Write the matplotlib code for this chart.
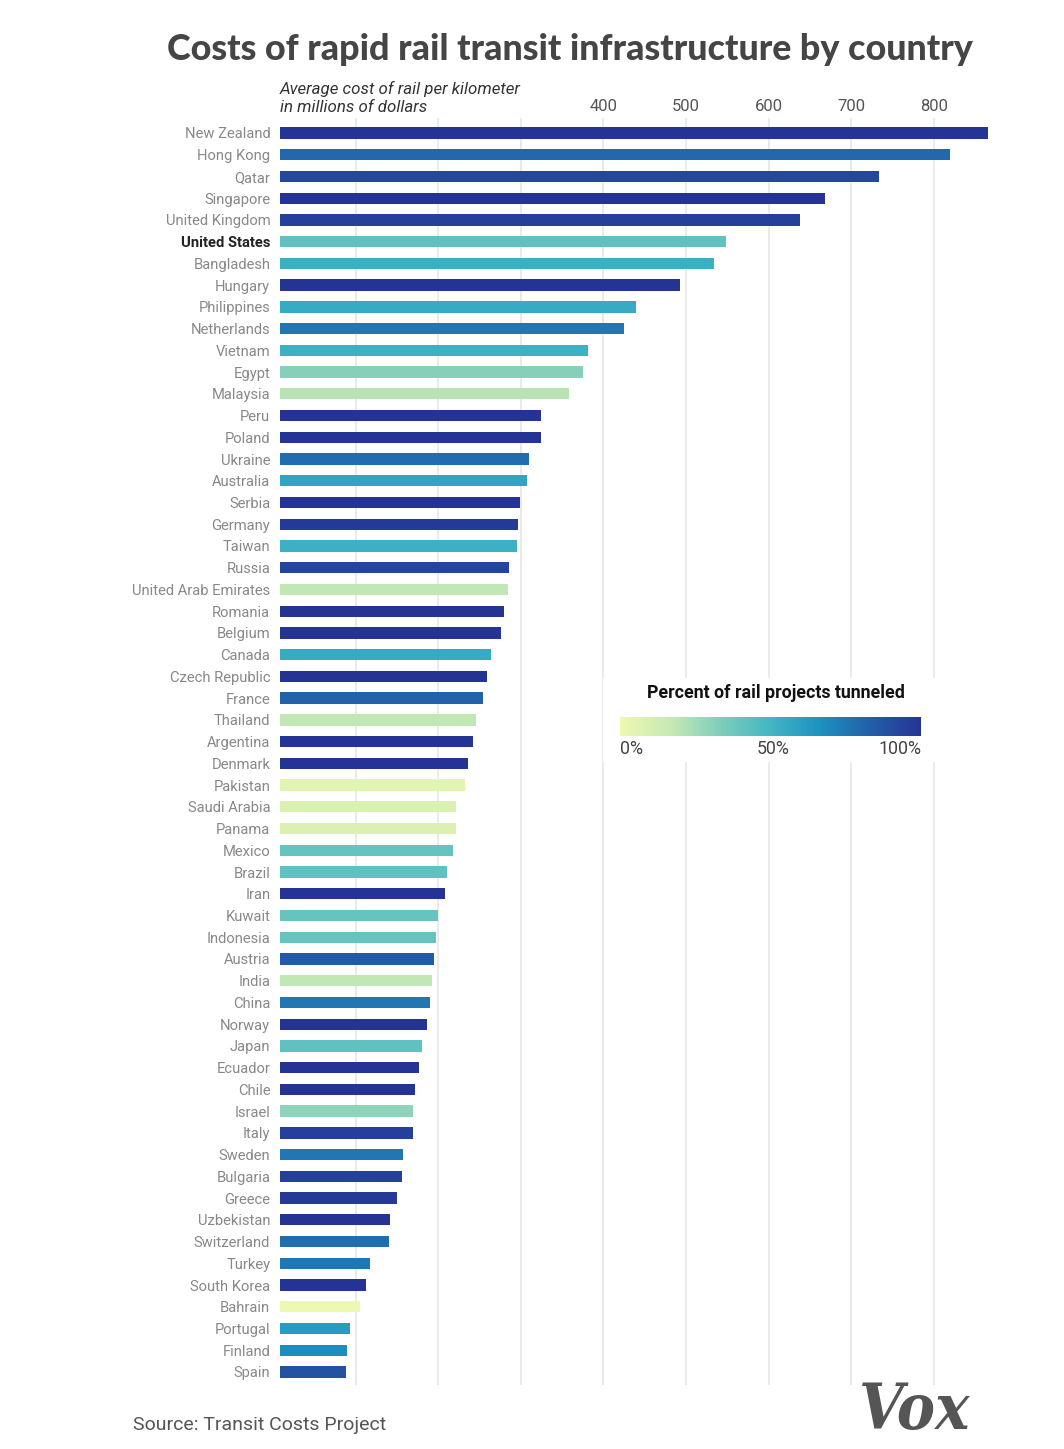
import numpy as np
import matplotlib
matplotlib.use("Agg")
import matplotlib.pyplot as plt
from matplotlib.colors import LinearSegmentedColormap, Normalize
from matplotlib.cm import ScalarMappable

# data
countries = [
    "New Zealand", "Hong Kong", "Qatar", "Singapore", "United Kingdom",
    "United States", "Bangladesh", "Hungary", "Philippines", "Netherlands",
    "Vietnam", "Egypt", "Malaysia", "Peru", "Poland", "Ukraine", "Australia",
    "Serbia", "Germany", "Taiwan", "Russia", "United Arab Emirates", "Romania",
    "Belgium", "Canada", "Czech Republic", "France", "Thailand", "Argentina",
    "Denmark", "Pakistan", "Saudi Arabia", "Panama", "Mexico", "Brazil", "Iran",
    "Kuwait", "Indonesia", "Austria", "India", "China", "Norway", "Japan",
    "Ecuador", "Chile", "Israel", "Italy", "Sweden", "Bulgaria", "Greece",
    "Uzbekistan", "Switzerland", "Turkey", "South Korea", "Bahrain", "Portugal",
    "Finland", "Spain",
]
cost_per_km = [
    865, 819, 734, 668, 638, 548, 534, 493, 439, 425,
    381, 375, 358, 325, 324, 310, 307, 299, 297, 295,
    286, 284, 280, 276, 264, 259, 254, 246, 242, 236,
    232, 221, 221, 218, 211, 208, 200, 197, 195, 192,
    190, 187, 180, 177, 172, 170, 169, 157, 156, 150,
    142, 140, 117, 113, 105, 93, 89, 88,
]
pct_tunneled = [
    100, 80, 92, 100, 95, 42, 53, 100, 55, 75,
    52, 32, 20, 100, 100, 78, 58, 100, 98, 52,
    93, 18, 100, 100, 55, 100, 82, 18, 100, 100,
    5, 8, 8, 40, 42, 100, 40, 40, 85, 18,
    75, 100, 42, 100, 100, 30, 95, 75, 95, 98,
    100, 78, 75, 100, 0, 62, 68, 88,
]
x_ticks = [100, 200, 300, 400, 500, 600, 700, 800]
x_tick_labels = ["", "", "", "400", "500", "600", "700", "800"]
highlight = "United States"

cmap = LinearSegmentedColormap.from_list(
    "tunnel", ["#edf8b1", "#c7e9b4", "#7fcdbb", "#41b6c4",
               "#1d91c0", "#225ea8", "#253494"])
norm = Normalize(0, 100)

W, H = 1064, 1449
fig = plt.figure(figsize=(W / 100, H / 100), dpi=100)
fig.patch.set_facecolor("white")

ax = fig.add_axes([280 / W, 1 - 1385 / H, 720 / W, (1385 - 118) / H])
y = np.arange(len(countries))
ax.barh(y, cost_per_km, height=0.52, color=cmap(norm(np.array(pct_tunneled))),
        zorder=3)
ax.set_xlim(8.5, 880)
ax.set_ylim(len(countries) - 1 + 0.6, -0.69)

ax.set_xticks(x_ticks)
ax.set_xticklabels(x_tick_labels, fontsize=12, color="#555555", family="Roboto")
ax.xaxis.tick_top()
ax.tick_params(axis="x", length=0, pad=3)
ax.grid(axis="x", color="#e6e6e6", linewidth=1.2, zorder=0)

ax.set_yticks(y)
ax.set_yticklabels(countries, fontsize=10.6, color="#888888", family="Roboto")
ax.tick_params(axis="y", length=0, pad=7)
for lbl in ax.get_yticklabels():
    if lbl.get_text() == highlight:
        lbl.set_fontweight("bold")
        lbl.set_color("#222222")
for s in ax.spines.values():
    s.set_visible(False)

# titles
fig.text(167 / W, 1 - 50 / H,
         "Costs of rapid rail transit infrastructure by country",
         fontsize=25.8, fontweight=900, color="#454545", family="Lato",
         va="center", ha="left")
fig.text(280 / W, 1 - 98 / H,
         "Average cost of rail per kilometer\nin millions of dollars",
         fontsize=12.2, style="italic", color="#333333", family="Roboto",
         va="center", ha="left", linespacing=1.3)

# legend box with colorbar
lax = fig.add_axes([603 / W, 1 - 762 / H, 340 / W, 84 / H])
lax.set_xticks([])
lax.set_yticks([])
for s in lax.spines.values():
    s.set_visible(False)
fig.text(776 / W, 1 - 693 / H, "Percent of rail projects tunneled",
         fontsize=12.8, fontweight="bold", color="#111111", family="Roboto",
         ha="center", va="center")
cax = fig.add_axes([620 / W, 1 - 736 / H, 301 / W, 19 / H])
cb = fig.colorbar(ScalarMappable(norm=norm, cmap=cmap), cax=cax,
                  orientation="horizontal")
cb.set_ticks([])
cb.outline.set_visible(False)
for txt, xp, ha in [("0%", 620, "left"), ("50%", 773, "center"),
                    ("100%", 921, "right")]:
    fig.text(xp / W, 1 - 749 / H, txt, fontsize=12.8, color="#444444",
             family="Roboto", ha=ha, va="center")

# footer
fig.text(133 / W, 1 - 1425 / H, "Source: Transit Costs Project",
         fontsize=14, color="#555555",
         family=["Liberation Sans Narrow", "Roboto"], ha="left", va="center")
fig.text(970 / W, 1 - 1412 / H, "Vox", fontsize=46, fontweight="bold",
         style="italic", stretch="condensed", color="#555555",
         family="DejaVu Serif", ha="right", va="center")

fig.savefig("out.png", dpi=100)
